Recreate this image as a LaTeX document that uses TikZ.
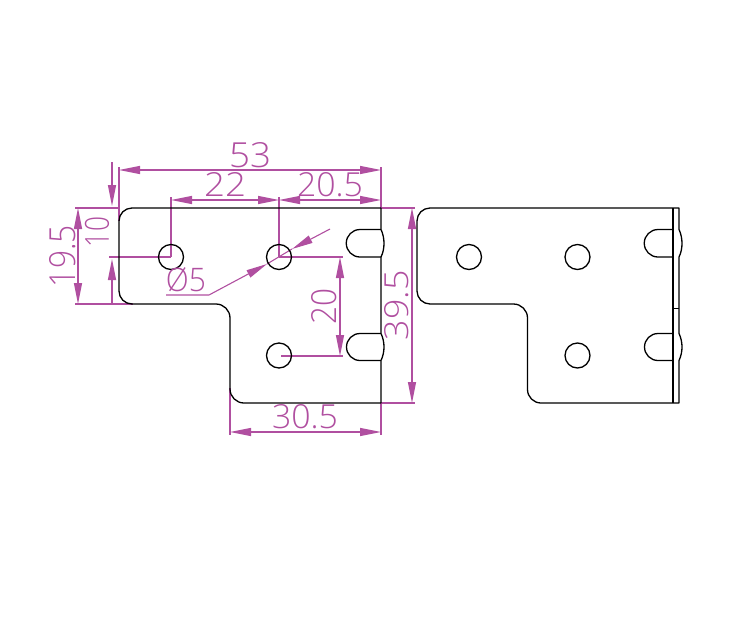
\documentclass[tikz,border=0pt]{standalone}
\usepackage{fontspec}
\setmainfont{Open Sans Light}
\usetikzlibrary{arrows.meta}
\definecolor{dimc}{HTML}{B04FA0}
\newcommand{\dimtxt}[3]{\resizebox{#1pt}{#2pt}{#3}}
\tikzset{
  part/.style={black,line width=1.3pt,line join=round},
  dimline/.style={dimc,line width=1.1pt},
  tipb/.style={{Triangle[length=21pt,width=8pt]}-{Triangle[length=21pt,width=8pt]}},
  tipe/.style={-{Triangle[length=21pt,width=8pt]}},
  dimtext/.style={text=dimc,inner sep=0pt,outer sep=0pt}
}
\begin{document}
\begin{tikzpicture}[x=1pt,y=-1pt]
\useasboundingbox (0,0) rectangle (738,632);
% extension lines
\draw[dimline] (119,167) -- (119,221);
\draw[dimline] (381,167) -- (381,208);
\draw[dimline] (171,197) -- (171,257);
\draw[dimline] (279,197) -- (279,257);
\draw[dimline] (75,208) -- (119,208);
\draw[dimline] (75,304) -- (133,304);
\draw[dimline] (109,257) -- (171,257);
\draw[dimline] (279,257) -- (343,257);
\draw[dimline] (281,356) -- (343,356);
\draw[dimline] (381,208) -- (415,208);
\draw[dimline] (381,403) -- (415,403);
\draw[dimline] (230,388) -- (230,435);
\draw[dimline] (381,403) -- (381,435);
% dimension lines
\draw[dimline,tipb] (119,170) -- (381,170);
\draw[dimline,tipb] (171,200) -- (279,200);
\draw[dimline,tipb] (279,200) -- (381,200);
\draw[dimline,tipb] (78,208) -- (78,304);
\draw[dimline,tipe] (112,162) -- (112,206);
\draw[dimline,tipe] (112,304) -- (112,259);
\draw[dimline,tipb] (340,257) -- (340,356);
\draw[dimline,tipb] (412,208) -- (412,403);
\draw[dimline,tipb] (230,432) -- (381,432);
% leader
\draw[dimline,tipe] (166,295) -- (209,295) -- (267,264);
\draw[dimline] (267,264) -- (292,249);
\draw[dimline,tipe] (330,229) -- (292,249);
% left view
\draw[part] (132,208) -- (381,208) -- (381,229.5)
  (381,257) -- (381,333.5) (381,360.5) -- (381,403) -- (244,403)
  arc[start angle=90,end angle=180,radius=14] -- (230,318)
  arc[start angle=0,end angle=-90,radius=14] -- (132,304)
  arc[start angle=90,end angle=180,radius=13] -- (119,221)
  arc[start angle=180,end angle=270,radius=13];
\draw[part] (381,229.5) -- (360,229.5) arc[start angle=-90,end angle=-270,radius=13.75] -- (381,257);
\draw[part] (381,333.5) -- (360,333.5) arc[start angle=-90,end angle=-270,radius=13.5] -- (381,360.5);
\draw[part] (381,229.5) .. controls (385,238) and (385,249) .. (381,257);
\draw[part] (381,333.5) .. controls (385,342) and (385,352) .. (381,360.5);
\draw[part] (171,257) circle[radius=12.5];
\draw[part] (279,257) circle[radius=12.5];
\draw[part] (279,355.5) circle[radius=12.5];
% right view
\draw[part] (430,208) -- (679,208) -- (679,229.5)
  .. controls (683,238) and (683,249) .. (679,257) -- (679,333.5)
  .. controls (683,342) and (683,352) .. (679,360.5) -- (679,403) -- (541,403)
  arc[start angle=90,end angle=180,radius=13.5] -- (527.5,318)
  arc[start angle=0,end angle=-90,radius=14] -- (430,304)
  arc[start angle=90,end angle=180,radius=13] -- (417,221)
  arc[start angle=180,end angle=270,radius=13];
\draw[part] (673,208) -- (673,403);
\draw[part,line width=0.8pt] (673,308) -- (679,308);
\draw[part] (673,229.5) -- (658,229.5) arc[start angle=-90,end angle=-270,radius=13.75] -- (673,257);
\draw[part] (673,333.5) -- (658,333.5) arc[start angle=-90,end angle=-270,radius=13.5] -- (673,360.5);
\draw[part] (469,257) circle[radius=12.5];
\draw[part] (577.5,257) circle[radius=12.5];
\draw[part] (577.5,355.5) circle[radius=12.5];
% labels
\node[dimtext] (d53) at (250,155) {\dimtxt{42}{25}{53}};
\node[dimtext] (d22) at (225,184.5) {\dimtxt{42}{24}{22}};
\node[dimtext] (d205) at (330,184.5) {\dimtxt{66}{24}{20.5}};
\node[dimtext] (d305) at (305,417) {\dimtxt{66}{24}{30.5}};
\node[dimtext,rotate=90] (d195) at (63,256) {\dimtxt{62}{26}{19.5}};
\node[dimtext,rotate=90] (d10) at (97,232) {\dimtxt{30}{24}{10}};
\node[dimtext,rotate=90] (d20) at (324,306) {\dimtxt{36}{25}{20}};
\node[dimtext,rotate=90] (d395) at (397,305) {\dimtxt{70}{24}{39.5}};
\node[dimtext] (dphi) at (186,280) {\dimtxt{40}{24}{Ø5}};
\end{tikzpicture}
\end{document}
